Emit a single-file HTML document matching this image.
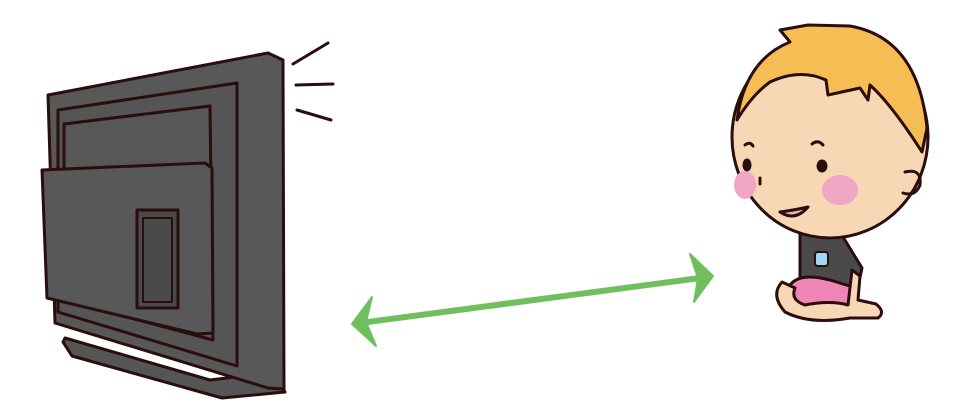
<!DOCTYPE html>
<html><head><style>html,body{margin:0;padding:0;background:#fff;width:968px;height:417px;overflow:hidden}</style></head>
<body>
<svg width="968" height="417" viewBox="0 0 968 417" xmlns="http://www.w3.org/2000/svg" stroke-linejoin="round" stroke-linecap="round">
<!-- TV -->
<g stroke="#2a0d0d" stroke-width="3">
 <path d="M63,342 L72,356 L222,398 L285,392 L275,372 L210,380 L65,338 Z" fill="#555"/>
 <path d="M48,95 L268,53 L283,60 L284,389 L268,388 L55,323 Z" fill="#585858"/>
 <path d="M58,110 L237,83 L237,366 L58,312 Z" fill="#555"/>
 <path d="M64,124 L210,106 L213,340 L64,300 Z" fill="#575757"/>
 <path d="M42,170 L205,163 L212,168 L213,333 L197,334 L47,298 Z" fill="#585858"/>
 <rect x="137" y="210" width="41" height="98" fill="#4a4a4a"/>
 <path d="M143,218 L172,218 L172,302 L143,302 Z" fill="#4a4a4a" stroke-width="2"/>
 <line x1="293" y1="64" x2="328" y2="43"/>
 <line x1="296" y1="85" x2="333" y2="84"/>
 <line x1="297" y1="110" x2="331" y2="120"/>
</g>
<!-- arrow -->
<g stroke="#6fbf5e" fill="#6fbf5e">
 <line x1="368" y1="322" x2="700" y2="278" stroke-width="6"/>
 <path d="M352,324 L372,297 L366,322 L376,346 Z" stroke-width="2"/>
 <path d="M713,276 L690,254 L698,278 L694,302 Z" stroke-width="2"/>
</g>
<!-- child body -->
<g stroke="#2a0d0d" stroke-width="3">
 <path d="M800,232 L840,232 L862,268 L855,300 L800,300 Z" fill="#4a4a4a"/>
 <path d="M790,285 Q800,272 830,280 L856,288 L852,318 L800,312 Z" fill="#ef86b5"/>
 <path d="M782,282 Q770,295 785,312 Q810,325 850,318 L878,318 Q886,312 876,304 L858,300 L860,276 L852,270 L848,305 Q830,300 805,305 Q790,300 795,288 Z" fill="#f8d7b5"/>
 <rect x="815" y="252" width="13" height="14" rx="3" fill="#9fd7f5" stroke-width="2"/>
 <!-- head -->
 <ellipse cx="830" cy="137" rx="98" ry="101" fill="#f8d7b5"/>
 <path d="M737,120 Q745,60 790,42 L780,30 L808,25 L850,26 Q918,38 927,128 L922,152 Q892,105 870,85 L868,100 L860,88 L828,95 L826,80 Q800,68 770,82 Q752,95 737,120 Z" fill="#f7bd55"/>
 <path d="M905,172 Q922,168 920,185 Q915,197 903,193" fill="none"/>
</g>
<ellipse cx="745" cy="185" rx="11" ry="14" fill="#f0a7c6"/>
<ellipse cx="840" cy="190" rx="18" ry="15" fill="#f0a7c6"/>
<g stroke="#2a0d0d" stroke-width="3" fill="#2a0d0d">
 <ellipse cx="747" cy="165" rx="3" ry="5"/>
 <ellipse cx="822" cy="166" rx="4" ry="5"/>
 <path d="M745,145 Q750,141 753,146" fill="none"/>
 <path d="M812,144 Q818,139 823,145" fill="none"/>
 <path d="M760,178 L760,184" fill="none"/>
 <path d="M780,212 Q795,222 808,207 Q795,210 780,212 Z" fill="#f0a7c6"/>
</g>
</svg>
</body></html>
